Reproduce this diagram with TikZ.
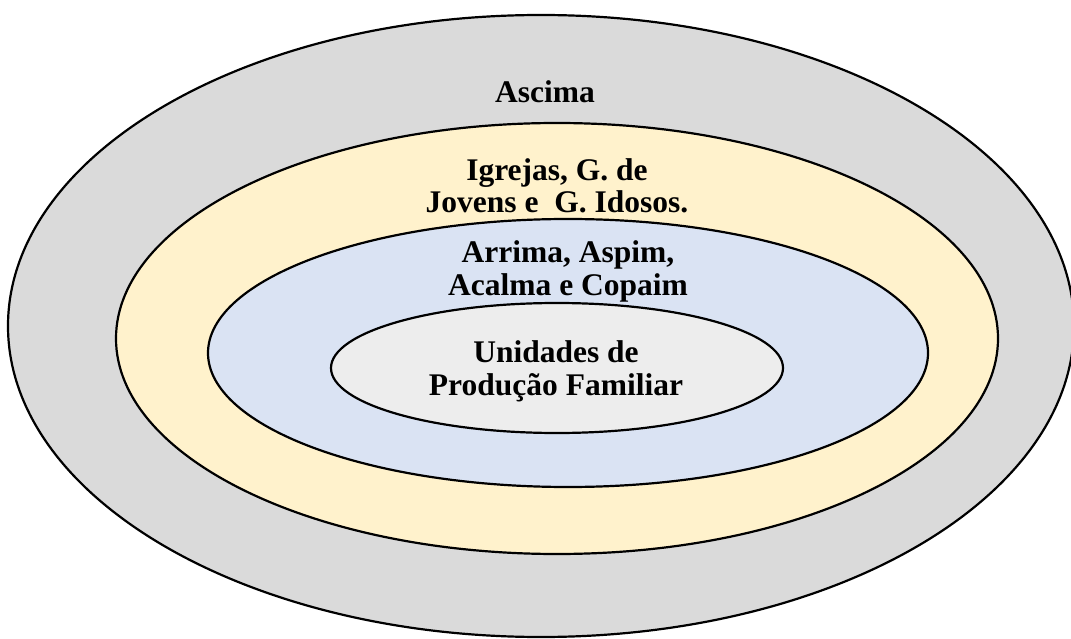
\documentclass[tikz,border=0pt]{standalone}
\usepackage{fontspec}
\setmainfont{Liberation Serif}
\definecolor{ringgray}{HTML}{DADADA}
\definecolor{ringyellow}{HTML}{FFF2CC}
\definecolor{ringblue}{HTML}{DAE3F3}
\definecolor{ringinner}{HTML}{EDEDED}
\tikzset{
  ring/.style={draw=black, line width=2.2pt},
  label/.style={font=\fontsize{31.5}{32.5}\selectfont\bfseries, align=center, inner sep=0pt}
}
\begin{document}
\begin{tikzpicture}[x=1pt,y=-1pt]
\useasboundingbox (0,0) rectangle (1071,639);
\clip (0,0) rectangle (1071,639);
\fill[white] (0,0) rectangle (1071,639);
\filldraw[ring, fill=ringgray] (541,326) ellipse [x radius=533, y radius=311];
\filldraw[ring, fill=ringyellow] (557,338.5) ellipse [x radius=441, y radius=215.5];
\filldraw[ring, fill=ringblue] (568,353) ellipse [x radius=360, y radius=134];
\filldraw[ring, fill=ringinner] (557,368) ellipse [x radius=226, y radius=65];
\node[label, anchor=base] (ascima) at (545,103) {Ascima};
\node[label, anchor=base] (igrejas) at (557,213) {Igrejas, G. de\\Jovens e\ \ G. Idosos.};
\node[label, anchor=base] (arrima) at (568,295) {Arrima, Aspim,\\Acalma e Copaim};
\node[label, anchor=base] (unidades) at (556,395) {Unidades de\\Produção Familiar};
\end{tikzpicture}
\end{document}
